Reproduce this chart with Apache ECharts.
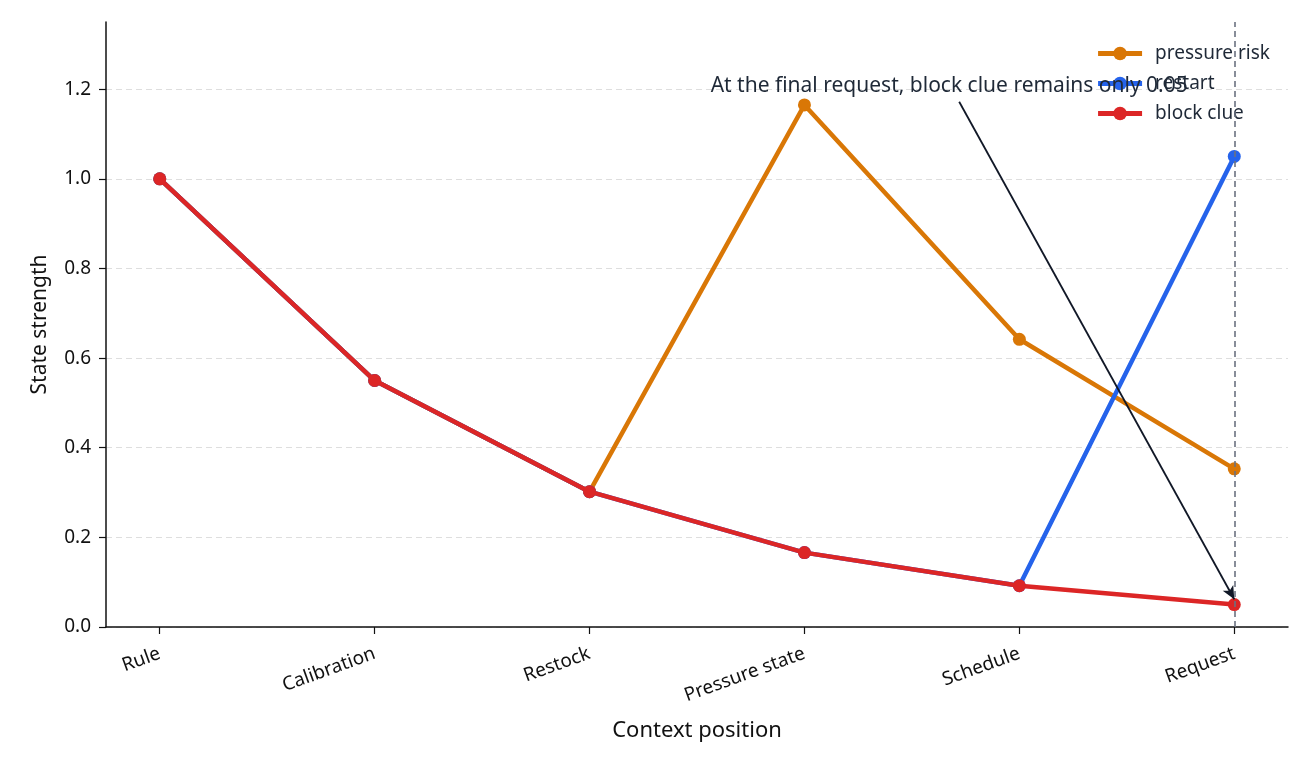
<!DOCTYPE html>
<html lang="en">
<head>
    <meta charset="utf-8">
    <script src="https://cdn.jsdelivr.net/npm/echarts@6/dist/echarts.min.js"></script>
    <style>
        html,
        body {
            margin: 0;
            width: 100%;
            height: 100%;
            background: #fff;
            overflow: hidden;
        }

        #chart {
            width: 1312px;
            height: 768px;
        }
    </style>
</head>
<body>
<div id="chart"></div>
<script>
    var categories = ['Rule', 'Calibration', 'Restock', 'Pressure state', 'Schedule', 'Request'];
    var pressureRisk = [1.0, 0.55, 0.302, 1.165, 0.642, 0.353];
    var restart = [1.0, 0.55, 0.302, 0.166, 0.092, 1.05];
    var blockClue = [1.0, 0.55, 0.302, 0.166, 0.092, 0.05];
    var yTicks = [0, 0.2, 0.4, 0.6, 0.8, 1.0, 1.2];
    var xTicks = [0, 1, 2, 3, 4, 5];
    var noteText = 'At the final request, block clue remains only 0.05';
    var noteFrom = [3.72, 1.172];
    var noteTo = [5, 0.062];

    var FONT = 'Noto Sans';

    function pairs(arr) {
        return arr.map(function (v, i) { return [i, v]; });
    }

    var chart = echarts.init(document.getElementById('chart'));
    chart.setOption({
        animation: false,
        textStyle: {fontFamily: FONT},
        grid: {left: 106, right: 24, top: 22, bottom: 141},
        legend: {
            orient: 'vertical',
            right: 37,
            top: 39,
            itemGap: 11,
            itemWidth: 44,
            itemHeight: 17,
            lineStyle: {width: 5},
            textStyle: {fontFamily: FONT, fontSize: 19, color: '#1f2937', padding: [0, 0, 0, 8]},
            data: ['pressure risk', 'restart', 'block clue']
        },
        xAxis: {
            type: 'value',
            min: -0.25,
            max: 5.25,
            name: 'Context position',
            nameLocation: 'middle',
            nameGap: 93,
            nameTextStyle: {fontFamily: FONT, fontSize: 22, color: '#111'},
            axisLine: {lineStyle: {color: '#111', width: 1.5}},
            axisTick: {customValues: xTicks, length: 7, lineStyle: {color: '#111', width: 1.2}},
            axisLabel: {
                customValues: xTicks,
                rotate: 20,
                fontSize: 19,
                color: '#111',
                margin: 26,
                formatter: function (v) { return categories[Math.round(v)]; }
            },
            splitLine: {show: false}
        },
        yAxis: {
            type: 'value',
            min: 0,
            max: 1.35,
            name: 'State strength',
            nameLocation: 'middle',
            nameGap: 55,
            nameTextStyle: {fontFamily: FONT, fontSize: 21, color: '#111'},
            axisLine: {show: true, onZero: false, lineStyle: {color: '#111', width: 1.5}},
            axisTick: {show: true, customValues: yTicks, length: 7, lineStyle: {color: '#111', width: 1.2}},
            axisLabel: {
                customValues: yTicks,
                fontSize: 19,
                color: '#111',
                margin: 15,
                formatter: function (v) { return v.toFixed(1); }
            },
            splitLine: {show: true, lineStyle: {color: '#dedede', type: [6, 4], width: 1}}
        },
        series: [
            {
                name: 'pressure risk',
                type: 'line',
                data: pairs(pressureRisk),
                color: '#d97706',
                lineStyle: {width: 4.5},
                symbol: 'circle',
                symbolSize: 13,
                z: 2
            },
            {
                name: 'restart',
                type: 'line',
                data: pairs(restart),
                color: '#2563eb',
                lineStyle: {width: 4.5},
                symbol: 'circle',
                symbolSize: 13,
                z: 3
            },
            {
                name: 'block clue',
                type: 'line',
                data: pairs(blockClue),
                color: '#dc2626',
                lineStyle: {width: 4.5},
                symbol: 'circle',
                symbolSize: 13,
                z: 4,
                markLine: {
                    silent: true,
                    animation: false,
                    symbol: ['none', 'none'],
                    label: {show: false},
                    lineStyle: {color: '#6b7280', type: [6, 4], width: 1.6},
                    data: [
                        {xAxis: 5},
                        [
                            {coord: noteFrom, symbol: 'none', lineStyle: {color: '#111827', type: 'solid', width: 1.8}},
                            {coord: noteTo, symbol: 'arrow', symbolSize: [9, 13]}
                        ]
                    ]
                },
                markPoint: {
                    silent: true,
                    symbol: 'circle',
                    symbolSize: 0,
                    label: {
                        show: true,
                        position: 'top',
                        distance: 5,
                        offset: [-10, 0],
                        formatter: noteText,
                        fontFamily: FONT,
                        fontSize: 21,
                        color: '#1f2937'
                    },
                    data: [{coord: noteFrom}]
                }
            }
        ]
    });
</script>
</body>
</html>
